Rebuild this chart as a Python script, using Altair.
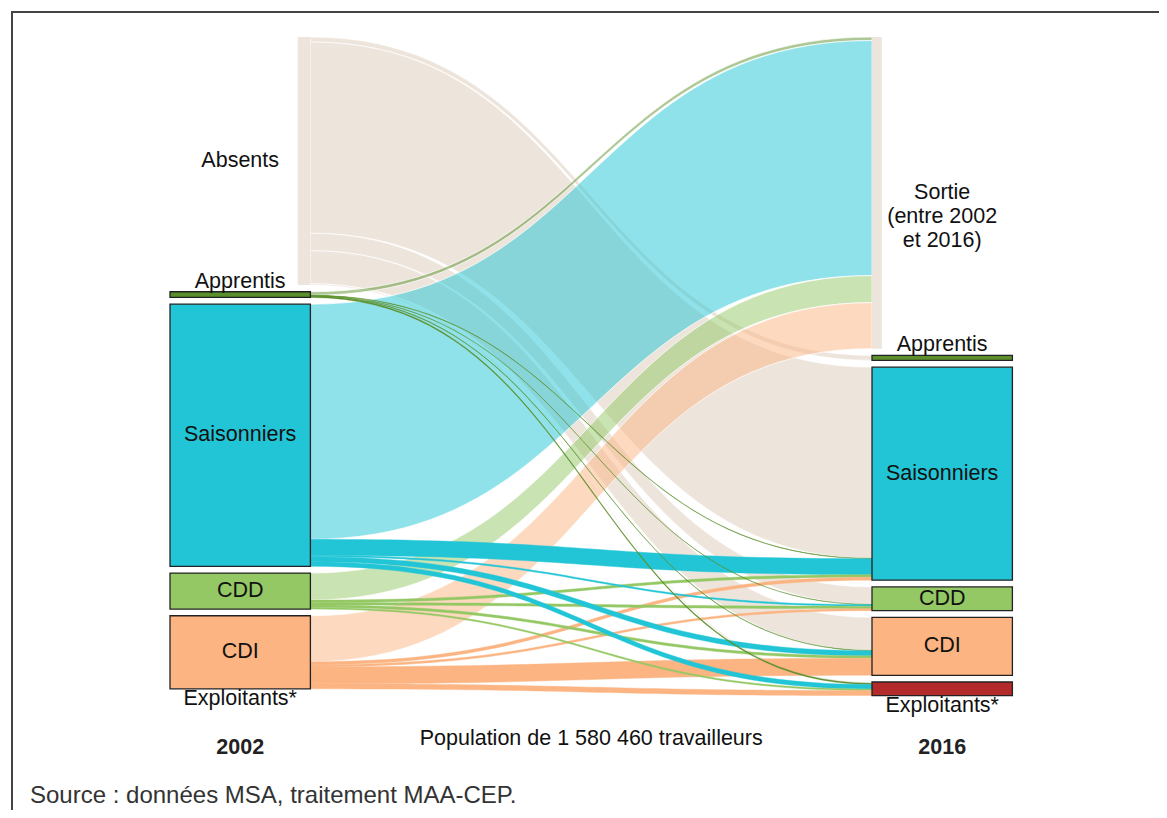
import altair as alt
import pandas as pd
import numpy as np

# ---------------- data ----------------
LEFT_NODES = ["Absents", "Apprentis", "Saisonniers", "CDD", "CDI", "Exploitants*"]
RIGHT_NODES = ["Sortie", "Apprentis", "Saisonniers", "CDD", "CDI", "Exploitants*"]

# flows 2002 (source) -> 2016 targets in RIGHT_NODES order (number of workers, estimated)
FLOW_ABSENTS = [0, 12700, 483460, 44300, 83500, 3300]
FLOW_APPRENTIS = [8900, 0, 1000, 500, 1000, 3000]
FLOW_SAISONNIERS = [594600, 0, 40500, 3800, 12700, 11400]
FLOW_CDD = [68300, 0, 6300, 6300, 6300, 3800]
FLOW_CDI = [116400, 0, 7600, 5100, 43000, 12700]
FLOW_EXPLOITANTS = [0, 0, 0, 0, 0, 0]
FLOWS = [FLOW_ABSENTS, FLOW_APPRENTIS, FLOW_SAISONNIERS, FLOW_CDD, FLOW_CDI, FLOW_EXPLOITANTS]

COLOR_KEYS = ["Absents", "Sortie", "Apprentis", "Saisonniers", "CDD", "CDI", "Exploitants*"]
COLOR_VALUES = ["#ede5dc", "#ede5dc", "#5b8f2c", "#22c5d6", "#94c865", "#fbb482", "#b22a2a"]

YEARS = ["2002", "2016"]
POPULATION_TEXT = "Population de 1 580 460 travailleurs"
SOURCE_TEXT = "Source : données MSA, traitement MAA-CEP."
SORTIE_TEXT = "Sortie\n(entre 2002\net 2016)"

# ---------------- layout ----------------
W, H = 1151, 802
X_LEFT_PX, X_RIGHT_PX = 162, 864      # plot px of the two node columns
PX_PER_X = X_RIGHT_PX - X_LEFT_PX
NODE_W = 0.2
ABS_W = 0.018
SORTIE_W = 0.014
Y_TOP_PX = 29
UNITS_PER_PX = 2529.0
GAP = 17000

xscale = alt.Scale(domain=[-X_LEFT_PX / PX_PER_X, (W - X_LEFT_PX) / PX_PER_X], nice=False, zero=False)
yscale = alt.Scale(domain=[-Y_TOP_PX * UNITS_PER_PX, (H - Y_TOP_PX) * UNITS_PER_PX],
                   nice=False, zero=False, reverse=True)
cscale = alt.Scale(domain=COLOR_KEYS, range=COLOR_VALUES)

flows = np.array(FLOWS, dtype=float)
left_vals = flows.sum(axis=1)
right_vals = flows.sum(axis=0)


def stack(vals):
    tops, pos = [], 0.0
    for i, v in enumerate(vals):
        if i > 0 and v > 0:
            pos += GAP
        tops.append(pos)
        pos += v
    return tops


left_tops = stack(left_vals)
right_tops = stack(right_vals)

# link geometry (cubic bezier centre lines, constant vertical thickness)
s = np.linspace(0, 1, 49)
rows = []
src_off = [0.0] * len(LEFT_NODES)
tgt_off = [0.0] * len(RIGHT_NODES)
for i in range(len(LEFT_NODES)):
    for j in range(len(RIGHT_NODES)):
        v = flows[i, j]
        if v <= 0:
            continue
        y0 = left_tops[i] + src_off[i]
        src_off[i] += v
        rows.append((i, j, v, y0))
link_rows = []
for j in range(len(RIGHT_NODES)):
    for (i, jj, v, y0) in rows:
        if jj != j:
            continue
        y1 = right_tops[j] + tgt_off[j]
        tgt_off[j] += v
        x0, x1 = NODE_W, 1.0
        bx = x0 * ((1 - s) ** 3 + 1.5 * s * (1 - s)) + x1 * (s ** 3 + 1.5 * s * (1 - s))
        by = y0 + (y1 - y0) * (3 * s ** 2 - 2 * s ** 3)
        if i == 0:
            group = "absents"
        elif j == 0:
            group = "sortie"
        else:
            group = "inner"
        for xx, yy in zip(bx, by):
            link_rows.append({"link": f"{i}-{j}", "source": LEFT_NODES[i], "group": group,
                              "x": xx, "yt": yy, "yb": yy + v})
links = pd.DataFrame(link_rows)

# nodes
node_rows = []
for i, n in enumerate(LEFT_NODES):
    if left_vals[i] <= 0:
        continue
    if n == "Absents":
        node_rows.append({"key": n, "x": NODE_W - ABS_W, "x2": NODE_W, "y": left_tops[i],
                          "y2": left_tops[i] + left_vals[i], "kind": "hidden"})
    else:
        node_rows.append({"key": n, "x": 0.0, "x2": NODE_W, "y": left_tops[i],
                          "y2": left_tops[i] + left_vals[i], "kind": "box"})
for j, n in enumerate(RIGHT_NODES):
    if n == "Sortie":
        node_rows.append({"key": n, "x": 1.0, "x2": 1.0 + SORTIE_W, "y": right_tops[j],
                          "y2": right_tops[j] + right_vals[j], "kind": "hidden"})
    else:
        node_rows.append({"key": n, "x": 1.0, "x2": 1.0 + NODE_W, "y": right_tops[j],
                          "y2": right_tops[j] + right_vals[j], "kind": "box"})
nodes = pd.DataFrame(node_rows)

# labels
lab_mid, lab_above, lab_below, lab_multi = [], [], [], []
for col, names, tops, vals in [(0.0, LEFT_NODES, left_tops, left_vals),
                               (1.0, RIGHT_NODES, right_tops, right_vals)]:
    cx = col + NODE_W / 2
    for k, n in enumerate(names):
        if n == "Apprentis":
            lab_above.append({"x": cx, "y": tops[k], "t": n})
        elif n == "Exploitants*":
            lab_below.append({"x": cx, "y": tops[k] + vals[k], "t": n})
        elif n == "Sortie":
            lab_multi.append({"x": cx, "y": tops[k] + vals[k] / 2, "t": SORTIE_TEXT.split("\n")})
        else:
            lab_mid.append({"x": cx, "y": tops[k] + vals[k] / 2, "t": n})

FONT = "Liberation Sans"
FS = 21.5

X = lambda f: alt.X(f, type="quantitative", scale=xscale, axis=None)
Y = lambda f: alt.Y(f, type="quantitative", scale=yscale, axis=None)
C = alt.Color("source:N", scale=cscale, legend=None)

frame = alt.Chart(pd.DataFrame({"a": [0]})).mark_rect(
    fill=None, stroke="#444", strokeWidth=2
).encode(x=alt.value(4), x2=alt.value(W + 40), y=alt.value(4), y2=alt.value(H + 40))

abs_links = alt.Chart(links[links.group == "absents"]).mark_area(
    orient="vertical", stroke="white", strokeWidth=0.6
).encode(x=X("x"), y=alt.Y("yt:Q", scale=yscale, axis=None, stack=None), y2="yb:Q",
         detail="link:N", color=C)

sortie_links = alt.Chart(links[links.group == "sortie"]).mark_area(
    orient="vertical", fillOpacity=0.5, stroke="white", strokeWidth=0.7
).encode(x=X("x"), y=alt.Y("yt:Q", scale=yscale, axis=None, stack=None), y2="yb:Q",
         detail="link:N", color=C)

inner_links = alt.Chart(links[links.group == "inner"]).mark_area(
    orient="vertical", strokeWidth=0.4
).encode(x=X("x"), y=alt.Y("yt:Q", scale=yscale, axis=None, stack=None), y2="yb:Q",
         detail="link:N", color=C,
         stroke=alt.Stroke("source:N", scale=cscale, legend=None))

hidden_nodes = alt.Chart(nodes[nodes.kind == "hidden"]).mark_rect().encode(
    x=X("x"), x2="x2:Q", y=Y("y"), y2="y2:Q",
    color=alt.Color("key:N", scale=cscale, legend=None))

box_nodes = alt.Chart(nodes[nodes.kind == "box"]).mark_rect(
    stroke="#222", strokeWidth=1.3
).encode(x=X("x"), x2="x2:Q", y=Y("y"), y2="y2:Q",
         color=alt.Color("key:N", scale=cscale, legend=None))


def txt(df, **kw):
    return alt.Chart(pd.DataFrame(df)).mark_text(
        font=FONT, fontSize=FS, color="#111", align="center", **kw
    ).encode(x=X("x"), y=Y("y"), text="t")


t_mid = txt(lab_mid, baseline="middle")
t_above = txt(lab_above, baseline="middle", dy=-10)
t_below = txt(lab_below, baseline="middle", dy=10)
t_multi = txt(lab_multi, baseline="top", dy=-11, lineHeight=24)

years = alt.Chart(pd.DataFrame({"x": [NODE_W / 2, 1 + NODE_W / 2], "t": YEARS})).mark_text(
    font=FONT, fontSize=FS, fontWeight="bold", color="#222", align="center", baseline="middle"
).encode(x=X("x"), y=alt.value(740), text="t")

pop = alt.Chart(pd.DataFrame({"x": [(NODE_W / 2 + 1 + NODE_W / 2) / 2], "t": [POPULATION_TEXT]})).mark_text(
    font=FONT, fontSize=FS, color="#111", align="center", baseline="middle"
).encode(x=X("x"), y=alt.value(731), text="t")

src = alt.Chart(pd.DataFrame({"t": [SOURCE_TEXT]})).mark_text(
    font=FONT, fontSize=24, color="#333", align="left", baseline="alphabetic"
).encode(x=alt.value(22), y=alt.value(795), text="t")

chart = alt.layer(
    frame, abs_links, sortie_links, inner_links, hidden_nodes, box_nodes,
    t_mid, t_above, t_below, t_multi, years, pop, src
).properties(
    width=W, height=H, padding=0, autosize="none", background="white"
).configure_view(stroke=None)

chart.save("out.html", embed_options={"renderer": "svg", "actions": False})
